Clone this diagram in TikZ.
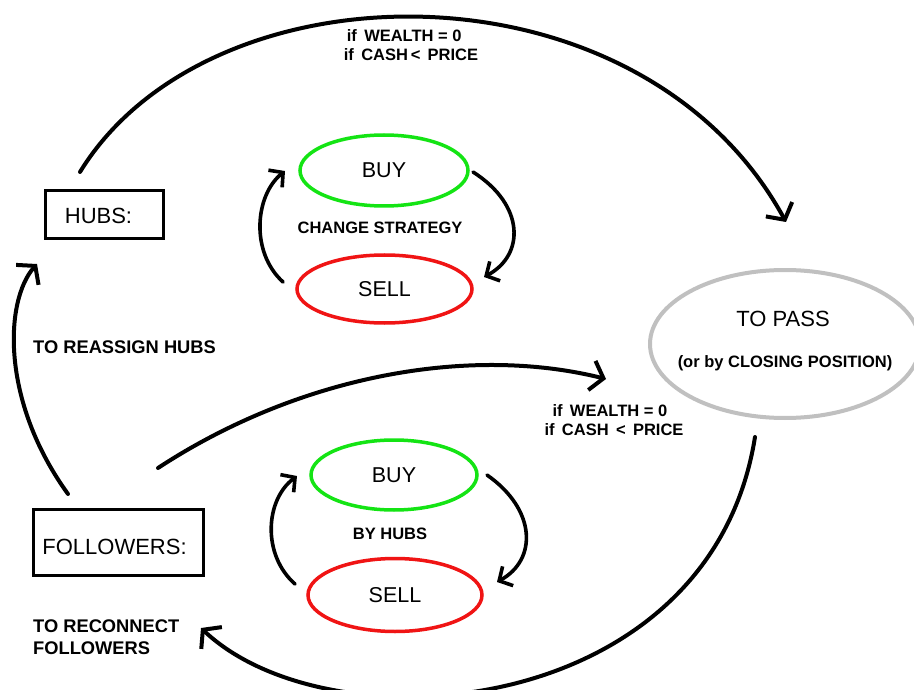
\documentclass[tikz,border=0pt]{standalone}
\usepackage{fontspec}
\setmainfont{Liberation Sans}
\usetikzlibrary{shapes.geometric,arrows.meta}
\definecolor{buygreen}{RGB}{20,228,20}
\definecolor{sellred}{RGB}{240,20,20}
\definecolor{passgray}{RGB}{192,192,192}
\tikzset{
  box/.style={draw, line width=3pt, inner sep=0pt},
  boxtext/.style={inner sep=0pt, font=\fontsize{22}{25}\selectfont},
  stateell/.style={ellipse, draw, line width=3.5pt, inner sep=0pt, font=\fontsize{21.5}{24}\selectfont},
  buyell/.style={stateell, draw=buygreen},
  sellell/.style={stateell, draw=sellred},
  flow/.style={line width=4pt, line cap=round, -{Straight Barb[length=12pt,width=30pt]}},
  loopflow/.style={line width=3.6pt, line cap=round, -{Straight Barb[length=10pt,width=22pt]}},
  lbl/.style={font=\bfseries\fontsize{16.5}{19}\selectfont, inner sep=0pt},
  biglbl/.style={font=\bfseries\fontsize{18.3}{21}\selectfont, inner sep=0pt},
}
\begin{document}
\begin{tikzpicture}[x=1pt,y=-1pt]
\clip (0,0) rectangle (914,690);
\fill[white] (0,0) rectangle (914,690);

% boxes
\node[box, minimum width=118pt, minimum height=48pt] (hubs) at (104,215) {};
\node[boxtext] (hubstxt) at (98.5,216) {HUBS:};
\node[box, minimum width=170pt, minimum height=66pt] (followers) at (118.5,542.5) {};
\node[boxtext] (followerstxt) at (114.5,547) {FOLLOWERS:};

% top loop
\node[buyell, minimum width=168pt, minimum height=71pt] (buy1) at (384,170.5) {BUY};
\node[sellell, minimum width=175pt, minimum height=68pt] (sell1) at (384.5,289) {SELL};
\node[lbl] (cs) at (380,228) {CHANGE STRATEGY};

% bottom loop
\node[buyell, minimum width=166pt, minimum height=70pt] (buy2) at (394,475) {BUY};
\node[sellell, minimum width=174pt, minimum height=73pt] (sell2) at (395,595) {SELL};
\node[lbl] (byhubs) at (390,534) {BY HUBS};

% to pass
\node[ellipse, draw=passgray, line width=4pt, minimum width=270pt, minimum height=148pt, inner sep=0pt] (pass) at (785,344) {};
\node[font=\fontsize{22}{25}\selectfont, inner sep=0pt] (passtxt) at (783,319) {TO PASS};
\node[lbl] (closing) at (785,363) {(or by CLOSING POSITION)};

% labels
\node[lbl, align=left] (cond1) at (411,45) {\hspace*{3pt}if\, WEALTH = 0\\if\, CASH\,< \,PRICE};
\node[lbl, align=left] (cond2) at (614,420) {\hspace*{8pt}if\, WEALTH = 0\\if\, CASH\, <\, PRICE};
\node[biglbl, anchor=west] (reassign) at (33,347) {TO REASSIGN HUBS};
\node[biglbl, anchor=north west, align=left] (reconnect) at (33,620) {TO RECONNECT\\[1pt]FOLLOWERS};

% connector end points
\coordinate (a1s) at (80,172);
\coordinate (a1e) at (786,222);
\coordinate (a2s) at (158,468);
\coordinate (a2e) at (606,379);
\coordinate (a3s) at (755,437);
\coordinate (a3e) at (201,628);
\coordinate (a4s) at (68,494);
\coordinate (a4e) at (37,264);

\draw[flow] (a1s) .. controls (210,-40) and (640,-45) .. (a1e);
\draw[flow] (a2s) .. controls (300,375) and (470,345) .. (a2e);
\draw[flow] (a3s) .. controls (710,720) and (330,750) .. (a3e);
\draw[flow] (a4s) .. controls (0,400) and (5,300) .. (a4e);

% small loops
\coordinate (l1s) at (283,282);
\coordinate (l1e) at (285,171);
\coordinate (r1s) at (473,172);
\coordinate (r1e) at (484,277);
\coordinate (l2s) at (295,584);
\coordinate (l2e) at (297,476);
\coordinate (r2s) at (487,475);
\coordinate (r2e) at (497,582);
\draw[loopflow] (l1s) .. controls (250,252) and (255,195) .. (l1e);
\draw[loopflow] (r1s) .. controls (525,205) and (525,255) .. (r1e);
\draw[loopflow] (l2s) .. controls (262,555) and (265,500) .. (l2e);
\draw[loopflow] (r2s) .. controls (537,510) and (537,560) .. (r2e);
\end{tikzpicture}
\end{document}
